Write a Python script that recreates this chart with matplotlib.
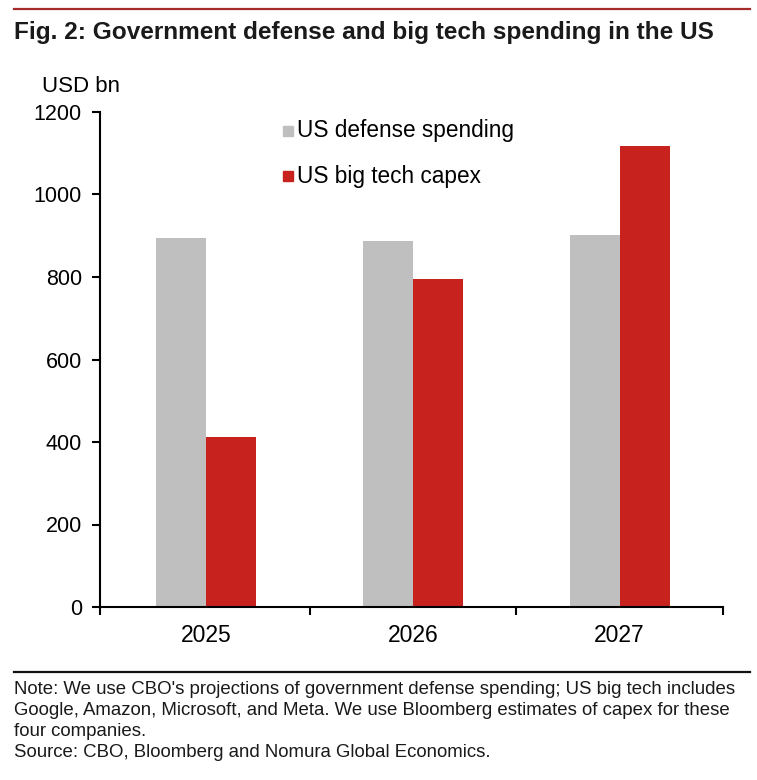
import matplotlib
matplotlib.use("Agg")
import matplotlib.pyplot as plt
from matplotlib.lines import Line2D
from matplotlib.patches import Rectangle
import numpy as np

years = ["2025", "2026", "2027"]
defense = [894, 887, 902]
capex = [412, 795, 1118]
yticks = [0, 200, 400, 600, 800, 1000, 1200]
series_names = ["US defense spending", "US big tech capex"]

GRAY = "#BFBFBF"
RED = "#C8221F"
FONT = "Liberation Sans"
plt.rcParams["font.family"] = [FONT, "DejaVu Sans"]

W, H = 757, 780
fig = plt.figure(figsize=(W / 100, H / 100), dpi=100)

def fx(px):
    return px / W

def fy(py):
    return 1 - py / H

# top red rule and title
fig.add_artist(Line2D([fx(14), fx(750)], [fy(9), fy(9)], color="#A52A2A", lw=1.6))
fig.text(fx(14), fy(33), "Fig. 2: Government defense and big tech spending in the US",
         fontsize=17.6, fontweight="bold", color="#1a1a1a", va="center", ha="left")

ax = fig.add_axes([fx(100), fy(607), fx(723) - fx(100), fy(112) - fy(607)])
x = np.arange(len(years))
bw = 0.242
ax.bar(x - bw / 2, defense, width=bw, color=GRAY, label=series_names[0])
ax.bar(x + bw / 2, capex, width=bw, color=RED, label=series_names[1])

ax.set_xlim(-0.515, 2.5)
ax.set_ylim(0, 1200)
ax.set_yticks(yticks)
ax.set_yticklabels([str(v) for v in yticks], fontsize=15.5)
ax.set_xticks([-0.515, 0.5, 1.5, 2.5])
ax.set_xticklabels([])
ax.set_xticks(x, minor=True)
ax.set_xticklabels(years, minor=True, fontsize=16.5)
ax.tick_params(axis="x", which="minor", length=0, pad=12)
ax.tick_params(axis="x", which="major", length=6, width=1.5, direction="out")
ax.tick_params(axis="y", length=6, width=1.5, direction="out", pad=7)
for s in ["top", "right"]:
    ax.spines[s].set_visible(False)
for s in ["left", "bottom"]:
    ax.spines[s].set_linewidth(1.5)

fig.text(fx(42), fy(87), "USD bn", fontsize=16, va="center", ha="left")

# legend (manual layout)
for i, (name, col) in enumerate(zip(series_names, [GRAY, RED])):
    yc = 131 + i * 45
    fig.add_artist(Rectangle((fx(283), fy(yc + 5)), fx(10), fy(0) - fy(10),
                             color=col, transform=fig.transFigure))
    fig.text(fx(297), fy(yc), name, fontsize=16.3, va="center", ha="left")

# bottom rule and notes
fig.add_artist(Line2D([fx(14), fx(750)], [fy(672), fy(672)], color="#111111", lw=1.6))
notes = ["Note: We use CBO's projections of government defense spending; US big tech includes",
         "Google, Amazon, Microsoft, and Meta. We use Bloomberg estimates of capex for these",
         "four companies.",
         "Source: CBO, Bloomberg and Nomura Global Economics."]
for i, line in enumerate(notes):
    fig.text(fx(14), fy(690 + i * 20.7), line, fontsize=13.4, va="center", ha="left",
             color="#1a1a1a")

fig.savefig("out.png", dpi=100)
